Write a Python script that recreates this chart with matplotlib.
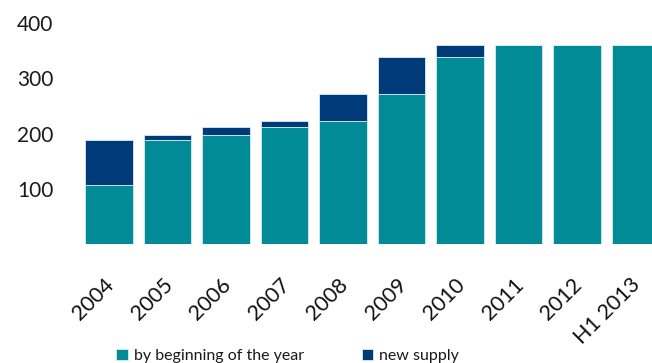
import numpy as np
import matplotlib.pyplot as plt
from matplotlib.transforms import ScaledTranslation

years = ['2004', '2005', '2006', '2007', '2008', '2009', '2010', '2011', '2012', 'H1 2013']
by_beginning = [107, 188, 197, 211, 222, 271, 339, 360, 360, 360]
new_supply = [81, 9, 14, 11, 49, 68, 21, 0, 0, 0]

teal = '#008B96'
navy = '#003A78'

plt.rcParams['font.family'] = ['Lato', 'DejaVu Sans']

fig = plt.figure(figsize=(6.52, 3.63), dpi=100)
ax = fig.add_axes([79.75 / 652, 119 / 363, 585 / 652, 221 / 363])

x = np.arange(len(years))
ax.bar(x, by_beginning, width=0.82, color=teal, edgecolor='#d8eef0', linewidth=0.6,
       label='by beginning of the year')
ax.bar(x, new_supply, width=0.82, bottom=by_beginning, color=navy, edgecolor='#d8eef0',
       linewidth=0.6, label='new supply')

ax.set_xlim(-0.5, 9.5)
ax.set_ylim(0, 400)
ax.set_yticks([100, 200, 300, 400])
ax.set_yticklabels(['100', '200', '300', '400'], fontsize=15, color='#1a1a1a')
ax.set_xticks(x)
ax.set_xticklabels(years, rotation=45, ha='right', rotation_mode='anchor',
                   fontsize=15.5, color='#111111')
ax.tick_params(axis='y', length=0, pad=19)
ax.tick_params(axis='x', length=0, pad=22)
# nudge rotated labels a bit to the left
shift = ScaledTranslation(-5 / 100, 0, fig.dpi_scale_trans)
for lbl in ax.get_xticklabels():
    lbl.set_transform(lbl.get_transform() + shift)
for s in ax.spines.values():
    s.set_visible(False)

leg = fig.legend(loc='lower left', bbox_to_anchor=(102 / 652, -0.04), ncol=2,
                 frameon=False, fontsize=11.5, handlelength=0.7, handleheight=0.7,
                 handletextpad=0.4, columnspacing=3.6)
for t in leg.get_texts():
    t.set_color('#1a1a1a')

fig.savefig('out.png', dpi=100)
